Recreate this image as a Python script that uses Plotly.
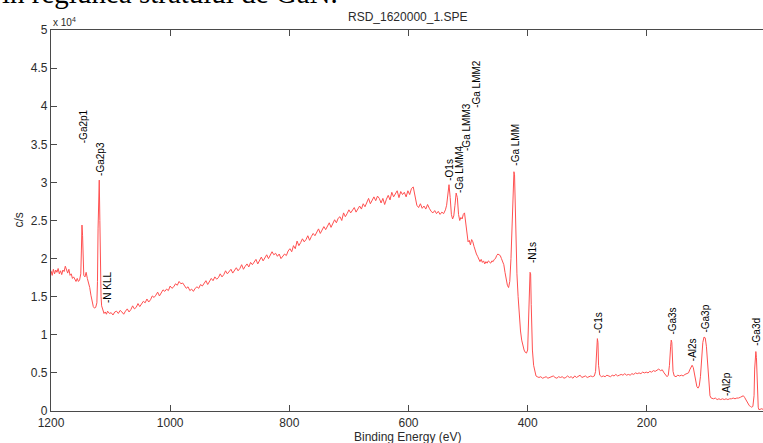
import plotly.graph_objects as go

# Binding energy (eV) and intensity (in units of 10^4 c/s)
energy = [
    1200, 1198, 1196, 1194, 1192, 1190, 1188, 1186, 1184, 1182, 1180, 1178, 1176, 1174, 1172, 1170,
    1168, 1166, 1164, 1162, 1160, 1158, 1156, 1154, 1152, 1150, 1149, 1148, 1147, 1146, 1145, 1143,
    1141, 1139, 1137, 1135, 1133, 1131, 1129, 1127, 1125, 1123, 1122, 1121, 1120, 1119, 1118, 1117,
    1116, 1115, 1113, 1111, 1109, 1107, 1105, 1102, 1099, 1096, 1093, 1090, 1087, 1084, 1081, 1078,
    1075, 1072, 1069, 1066, 1063, 1060, 1057, 1054, 1051, 1048, 1045, 1042, 1039, 1036, 1033, 1030,
    1027, 1024, 1021, 1018, 1015, 1012, 1009, 1006, 1003, 1000, 997, 994, 991, 988, 985, 982,
    979, 976, 973, 970, 967, 964, 961, 958, 955, 952, 949, 946, 943, 940, 937, 934,
    931, 928, 925, 922, 919, 916, 913, 910, 907, 904, 901, 898, 895, 892, 889, 886,
    883, 880, 877, 874, 871, 868, 865, 862, 859, 856, 853, 850, 847, 844, 841, 838,
    835, 832, 829, 826, 823, 820, 817, 814, 811, 808, 805, 802, 799, 796, 793, 790,
    787, 784, 781, 778, 775, 772, 769, 766, 763, 760, 757, 754, 751, 748, 745, 742,
    739, 736, 733, 730, 727, 724, 721, 718, 715, 712, 709, 706, 703, 700, 697, 694,
    691, 688, 685, 682, 679, 676, 673, 670, 667, 664, 661, 658, 655, 652, 649, 646,
    643, 640, 637, 634, 631, 628, 625, 622, 619, 616, 613, 610, 607, 604, 601, 598,
    595, 592, 590, 588, 586, 583, 580, 577, 574, 571, 568, 565, 562, 559, 556, 553,
    550, 547, 544, 541, 538, 536, 534, 532, 530, 528, 526, 524, 522, 520, 518, 516,
    514, 512, 510, 508, 506, 504, 502, 500, 498, 496, 494, 492, 490, 488, 486, 484,
    482, 480, 478, 476, 474, 472, 470, 468, 466, 464, 462, 460, 458, 456, 454, 452,
    450, 448, 446, 444, 442, 440, 438, 436, 434, 432, 430, 428, 426, 424, 423, 422,
    421, 420, 418, 416, 414, 412, 410, 408, 406, 404, 402, 400, 398, 396, 395, 394,
    392, 390, 388, 386, 384, 381, 378, 375, 372, 369, 366, 363, 360, 357, 354, 351,
    348, 345, 342, 339, 336, 333, 330, 327, 324, 321, 318, 315, 312, 309, 306, 303,
    300, 297, 294, 291, 288, 286, 284, 283, 282, 281, 279, 276, 273, 270, 267, 264,
    261, 258, 255, 252, 249, 246, 243, 240, 237, 234, 231, 228, 225, 222, 219, 216,
    213, 210, 207, 204, 201, 198, 195, 192, 189, 186, 183, 180, 177, 174, 171, 168,
    166, 164, 162, 160, 159, 158, 157, 156, 154, 151, 148, 145, 142, 139, 136, 133,
    130, 128, 126, 124, 122, 120, 118, 116, 114, 112, 110, 108, 106, 104, 102, 100,
    98, 96, 94, 92, 90, 88, 85, 82, 79, 76, 73, 70, 67, 64, 61, 58,
    55, 52, 49, 46, 43, 40, 38, 36, 34, 32, 30, 28, 26, 24, 22, 20,
    19, 18, 17, 16, 15, 14, 13, 12, 10, 8, 6, 4, 2, 0,
]

counts_1e4 = [
    1.84, 1.78, 1.86, 1.80, 1.85, 1.82, 1.87, 1.80, 1.84, 1.79, 1.85, 1.83, 1.90, 1.84, 1.81, 1.86,
    1.78, 1.80, 1.74, 1.76, 1.72, 1.70, 1.74, 1.70, 1.72, 1.80, 2.10, 2.44, 2.30, 1.95, 1.78, 1.76,
    1.82, 1.74, 1.68, 1.62, 1.52, 1.44, 1.37, 1.35, 1.36, 1.42, 1.70, 2.40, 3.00, 3.03, 2.50, 1.80,
    1.50, 1.38, 1.31, 1.28, 1.30, 1.27, 1.31, 1.28, 1.29, 1.26, 1.30, 1.31, 1.28, 1.32, 1.30, 1.27,
    1.31, 1.34, 1.30, 1.33, 1.38, 1.34, 1.36, 1.41, 1.37, 1.40, 1.44, 1.42, 1.47, 1.43, 1.46, 1.51,
    1.49, 1.52, 1.56, 1.51, 1.55, 1.59, 1.57, 1.60, 1.58, 1.64, 1.61, 1.63, 1.67, 1.65, 1.70, 1.67,
    1.68, 1.64, 1.61, 1.63, 1.58, 1.60, 1.57, 1.61, 1.63, 1.61, 1.66, 1.64, 1.67, 1.71, 1.66, 1.70,
    1.74, 1.71, 1.76, 1.73, 1.75, 1.80, 1.76, 1.79, 1.84, 1.80, 1.83, 1.86, 1.81, 1.85, 1.88, 1.84,
    1.87, 1.92, 1.86, 1.90, 1.93, 1.89, 1.95, 1.92, 1.96, 1.99, 1.93, 1.98, 2.02, 1.97, 2.01, 2.05,
    2.00, 2.04, 2.09, 2.05, 2.07, 2.03, 2.06, 2.00, 2.03, 2.06, 2.04, 2.10, 2.13, 2.09, 2.17, 2.13,
    2.23, 2.17, 2.21, 2.26, 2.22, 2.25, 2.30, 2.24, 2.29, 2.33, 2.30, 2.34, 2.39, 2.33, 2.37, 2.42,
    2.38, 2.43, 2.47, 2.41, 2.46, 2.51, 2.47, 2.53, 2.55, 2.50, 2.60, 2.55, 2.59, 2.64, 2.60, 2.63,
    2.67, 2.61, 2.66, 2.69, 2.65, 2.72, 2.68, 2.74, 2.79, 2.72, 2.77, 2.81, 2.76, 2.82, 2.79, 2.73,
    2.79, 2.71, 2.78, 2.83, 2.77, 2.87, 2.81, 2.86, 2.89, 2.80, 2.88, 2.84, 2.87, 2.81, 2.89, 2.84,
    2.92, 2.94, 2.86, 2.78, 2.70, 2.67, 2.72, 2.66, 2.69, 2.65, 2.71, 2.66, 2.62, 2.60, 2.63, 2.59,
    2.62, 2.58, 2.61, 2.59, 2.64, 2.70, 2.88, 2.97, 2.80, 2.58, 2.52, 2.56, 2.70, 2.86, 2.80, 2.58,
    2.50, 2.54, 2.52, 2.58, 2.60, 2.45, 2.30, 2.22, 2.24, 2.18, 2.25, 2.22, 2.16, 2.10, 2.06, 2.03,
    1.98, 1.96, 1.99, 1.95, 1.97, 1.93, 1.96, 1.94, 1.97, 1.95, 1.94, 1.97, 1.96, 1.99, 2.00, 2.04,
    2.06, 2.05, 2.04, 2.00, 1.97, 1.92, 1.82, 1.72, 1.65, 1.62, 1.70, 2.00, 2.60, 3.05, 3.14, 3.10,
    2.80, 2.30, 1.80, 1.50, 1.25, 1.05, 0.93, 0.85, 0.80, 0.77, 0.76, 0.80, 1.30, 1.82, 1.80, 1.40,
    0.80, 0.60, 0.50, 0.46, 0.45, 0.44, 0.45, 0.43, 0.44, 0.45, 0.43, 0.44, 0.44, 0.46, 0.44, 0.43,
    0.45, 0.44, 0.45, 0.43, 0.44, 0.46, 0.44, 0.45, 0.43, 0.46, 0.44, 0.45, 0.47, 0.44, 0.45, 0.46,
    0.44, 0.45, 0.46, 0.45, 0.46, 0.52, 0.80, 0.95, 0.90, 0.60, 0.47, 0.45, 0.46, 0.45, 0.47, 0.46,
    0.45, 0.47, 0.46, 0.48, 0.46, 0.47, 0.48, 0.47, 0.49, 0.47, 0.48, 0.47, 0.49, 0.48, 0.50, 0.49,
    0.50, 0.49, 0.51, 0.50, 0.51, 0.50, 0.52, 0.51, 0.53, 0.52, 0.54, 0.55, 0.53, 0.54, 0.50, 0.46,
    0.45, 0.47, 0.60, 0.85, 0.93, 0.90, 0.70, 0.52, 0.46, 0.45, 0.47, 0.46, 0.47, 0.46, 0.48, 0.49,
    0.50, 0.54, 0.58, 0.60, 0.57, 0.50, 0.40, 0.32, 0.30, 0.33, 0.45, 0.70, 0.90, 0.97, 0.96, 0.85,
    0.60, 0.35, 0.20, 0.17, 0.16, 0.16, 0.17, 0.15, 0.16, 0.15, 0.16, 0.15, 0.16, 0.15, 0.16, 0.16,
    0.17, 0.16, 0.17, 0.17, 0.18, 0.19, 0.20, 0.18, 0.15, 0.12, 0.09, 0.07, 0.06, 0.05, 0.06, 0.20,
    0.55, 0.76, 0.78, 0.70, 0.45, 0.15, 0.05, 0.02, 0.02, 0.03, 0.02, 0.02, 0.03, 0.02,
]

# Peak labels
peak_labels = ["-Ga2p1", "-Ga2p3", "-N KLL", "-O1s", "-Ga LMM4", "-Ga LMM3", "-Ga LMM2",
               "-Ga LMM", "-N1s", "-C1s", "-Ga3s", "-Al2s", "-Ga3p", "-Al2p", "-Ga3d"]
peak_label_energy = [1146, 1116, 1106, 531, 514, 503, 487, 420, 393, 282, 156, 123, 101, 67, 15]
peak_label_level = [3.49, 3.06, 1.39, 2.99, 2.83, 3.39, 3.95, 3.19, 1.92, 1.00, 0.97, 0.63, 1.00, 0.17, 0.83]

x_tick_vals = [1200, 1000, 800, 600, 400, 200]
y_tick_vals = [0, 0.5, 1, 1.5, 2, 2.5, 3, 3.5, 4, 4.5, 5]
y_tick_text = ["0", "0.5", "1", "1.5", "2", "2.5", "3", "3.5", "4", "4.5", "5"]

FONT = "Liberation Sans, Arial, sans-serif"
AXIS_COLOR = "#4a4a4a"
TEXT_COLOR = "#2b2b2b"

fig = go.Figure()
fig.add_trace(go.Scatter(
    x=energy, y=counts_1e4, mode="lines",
    line=dict(color="#ff5050", width=1),
    hoverinfo="skip", showlegend=False,
))

annotations = []
for lab, e, lv in zip(peak_labels, peak_label_energy, peak_label_level):
    annotations.append(dict(
        x=e, y=lv, xref="x", yref="y", text=lab, showarrow=False,
        textangle=-90, xanchor="center", yanchor="bottom",
        font=dict(family=FONT, size=10, color="#000000"),
    ))

annotations += [
    dict(text="RSD_1620000_1.SPE", x=0.5, xref="paper", y=1, yref="paper",
         xanchor="center", yanchor="middle", yshift=13, showarrow=False,
         font=dict(family=FONT, size=12, color=TEXT_COLOR)),
    dict(text="x 10<sup>4</sup>", x=0, xref="paper", y=1, yref="paper",
         xanchor="left", yanchor="bottom", showarrow=False,
         font=dict(family=FONT, size=10, color=TEXT_COLOR)),
    dict(text="Binding Energy (eV)", x=0.5, xref="paper", y=0, yref="paper",
         xanchor="center", yanchor="top", yshift=-17, showarrow=False,
         font=dict(family=FONT, size=12, color=TEXT_COLOR)),
    dict(text="c/s", x=0, xref="paper", y=0.5, yref="paper",
         xanchor="center", yanchor="middle", xshift=-33, textangle=-90, showarrow=False,
         font=dict(family=FONT, size=12, color=TEXT_COLOR)),
    dict(text="în regiunea stratului de GaN.", x=0, xref="paper", y=1, yref="paper",
         xanchor="left", yanchor="bottom", xshift=-52, yshift=19, showarrow=False,
         font=dict(family="Liberation Serif, Times New Roman, serif", size=29, color="#000000")),
]

fig.update_layout(
    width=763, height=443,
    margin=dict(l=51, r=0, t=30, b=32, pad=0),
    paper_bgcolor="white", plot_bgcolor="white",
    showlegend=False,
    xaxis=dict(
        range=[1200, 5], autorange=False,
        tickmode="array", tickvals=x_tick_vals,
        ticks="inside", ticklen=6, tickwidth=1, tickcolor=AXIS_COLOR,
        showline=True, linecolor=AXIS_COLOR, linewidth=1.2, mirror="ticks",
        showgrid=False, zeroline=False,
        tickfont=dict(family=FONT, size=12, color=TEXT_COLOR),
    ),
    yaxis=dict(
        range=[0, 5], autorange=False,
        tickmode="array", tickvals=y_tick_vals, ticktext=y_tick_text,
        ticks="inside", ticklen=6, tickwidth=1, tickcolor=AXIS_COLOR,
        showline=True, linecolor=AXIS_COLOR, linewidth=1.2, mirror=False,
        showgrid=False, zeroline=False,
        tickfont=dict(family=FONT, size=12, color=TEXT_COLOR),
    ),
    annotations=annotations,
)

fig.write_html("out.html", config={"displayModeBar": False},
               post_script="document.body.style.margin='0';")
